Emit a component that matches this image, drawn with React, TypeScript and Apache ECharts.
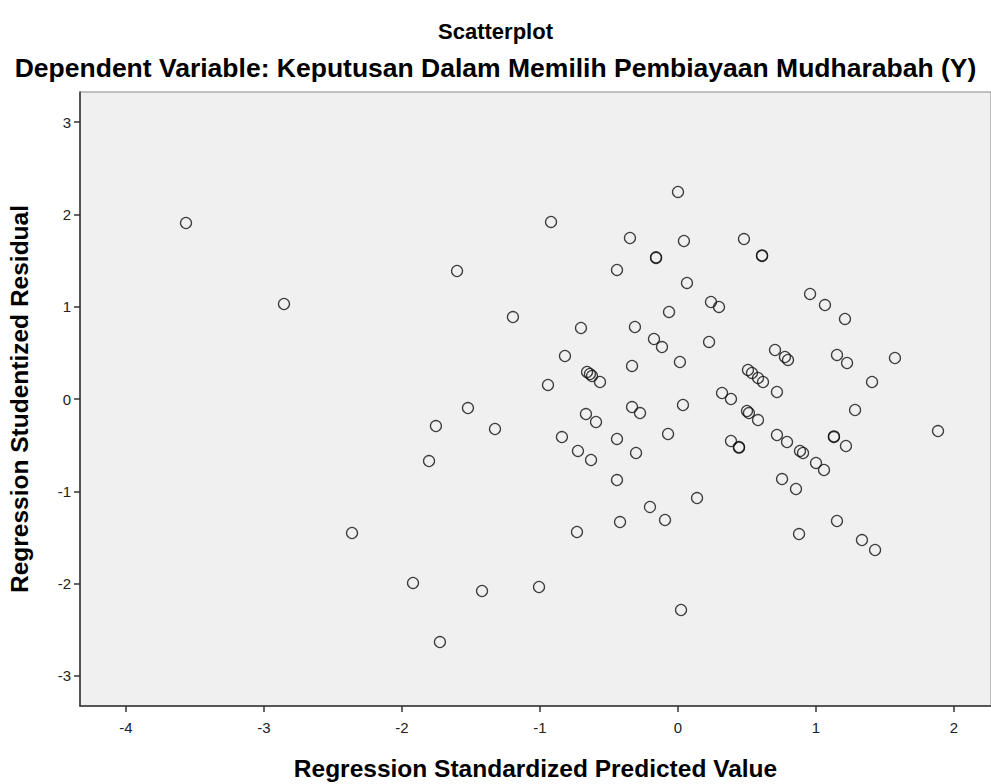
import React, { useEffect, useRef } from "react";
import * as echarts from "echarts";

const titleText = "Scatterplot";
const subtitleText = "Dependent Variable: Keputusan Dalam Memilih Pembiayaan Mudharabah (Y)";
const xAxisName = "Regression Standardized Predicted Value";
const yAxisName = "Regression Studentized Residual";

const xTicks = [-4, -3, -2, -1, 0, 1, 2];
const yTicks = [-3, -2, -1, 0, 1, 2, 3];

// Regression Standardized Predicted Value
const predicted = [
  -3.565, -2.855, -2.362, -1.601, -1.754, -1.522, -1.804, -1.326, -1.196, -1.92,
  -1.42, -1.725, -1.007, -0.92, -0.942, -0.819, -0.703, -0.841, -0.725, -0.732,
  -0.659, -0.638, -0.623, -0.565, -0.667, -0.594, -0.63, -0.442, -0.348, -0.312,
  -0.333, -0.333, -0.275, -0.442, -0.304, -0.442, -0.42, -0.159, -0.159, -0.174,
  -0.116, -0.065, 0.0, 0.043, 0.065, 0.014, 0.036, -0.072, -0.203, -0.094,
  0.022, 0.138, 0.239, 0.297, 0.225, 0.319, 0.384, 0.384, 0.442, 0.442,
  0.478, 0.507, 0.536, 0.58, 0.616, 0.5, 0.514, 0.58, 0.609, 0.609,
  0.703, 0.717, 0.775, 0.797, 0.717, 0.79, 0.754, 0.855, 0.884, 0.906,
  0.877, 0.957, 1.065, 1.0, 1.058, 1.21, 1.225, 1.152, 1.13, 1.13,
  1.217, 1.152, 1.283, 1.333, 1.428, 1.406, 1.572, 1.884,
];

// Regression Studentized Residual
const residual = [
  1.907, 1.029, -1.452, 1.387, -0.293, -0.098, -0.672, -0.325, 0.888, -1.993,
  -2.08, -2.633, -2.037, 1.918, 0.152, 0.466, 0.769, -0.412, -0.563, -1.441,
  0.293, 0.271, 0.249, 0.184, -0.163, -0.249, -0.661, 1.398, 1.744, 0.78,
  0.358, -0.087, -0.152, -0.433, -0.585, -0.878, -1.333, 1.528, 1.535, 0.65,
  0.563, 0.943, 2.243, 1.712, 1.257, 0.401, -0.065, -0.379, -1.17, -1.311,
  -2.286, -1.073, 1.051, 0.997, 0.618, 0.065, 0.0, -0.455, -0.52, -0.527,
  1.733, 0.314, 0.282, 0.228, 0.184, -0.13, -0.152, -0.228, 1.549, 1.556,
  0.531, 0.076, 0.455, 0.423, -0.39, -0.466, -0.867, -0.975, -0.563, -0.585,
  -1.463, 1.138, 1.018, -0.693, -0.769, 0.867, 0.39, 0.477, -0.412, -0.405,
  -0.509, -1.322, -0.119, -1.528, -1.636, 0.184, 0.444, -0.347,
];

const FONT = "'Liberation Sans', Arial, sans-serif";

export default function App() {
  const ref = useRef<HTMLDivElement>(null);
  useEffect(() => {
    if (!ref.current) return;
    const chart = echarts.init(ref.current, null, { renderer: "svg" });
    const data = predicted.map((x, i) => [x, residual[i]]);
    chart.setOption({
      animation: false,
      backgroundColor: "#ffffff",
      title: [
        {
          text: titleText,
          left: "center",
          top: 15,
          textStyle: { fontFamily: FONT, fontSize: 22, fontWeight: "bold", color: "#000" },
        },
        {
          text: subtitleText,
          left: "center",
          top: 49,
          textStyle: { fontFamily: FONT, fontSize: 26.5, fontWeight: "bold", color: "#000" },
        },
      ],
      grid: {
        left: 80,
        top: 92,
        right: 0,
        bottom: 78,
        outerBoundsMode: "none",
        containLabel: false,
        show: true,
        backgroundColor: "#f0f0f0",
        borderColor: "#888888",
        borderWidth: 1,
      },
      xAxis: {
        type: "value",
        min: -4.333,
        max: 2.268,
        name: xAxisName,
        nameLocation: "middle",
        nameGap: 50,
        nameTextStyle: { fontFamily: FONT, fontSize: 24.5, fontWeight: "bold", color: "#000" },
        axisLine: { show: true, onZero: false, lineStyle: { color: "#333", width: 1.5 } },
        axisTick: { show: true, length: 6, customValues: xTicks, lineStyle: { color: "#333", width: 1.5 } },
        axisLabel: { customValues: xTicks, margin: 14, fontFamily: FONT, fontSize: 15, color: "#222" },
        splitLine: { show: false },
      },
      yAxis: {
        type: "value",
        min: -3.326,
        max: 3.326,
        name: yAxisName,
        nameLocation: "middle",
        nameGap: 48,
        nameTextStyle: { fontFamily: FONT, fontSize: 24.5, fontWeight: "bold", color: "#000" },
        axisLine: { show: true, onZero: false, lineStyle: { color: "#333", width: 1.5 } },
        axisTick: { show: true, length: 6, customValues: yTicks, lineStyle: { color: "#333", width: 1.5 } },
        axisLabel: { customValues: yTicks, margin: 9, fontFamily: FONT, fontSize: 15, color: "#222" },
        splitLine: { show: false },
      },
      series: [
        {
          type: "scatter",
          data,
          symbol: "circle",
          symbolSize: 11,
          itemStyle: { color: "rgba(0,0,0,0)", borderColor: "#111", borderWidth: 1.3 },
          emphasis: { disabled: true },
        },
      ],
    });
    return () => chart.dispose();
  }, []);
  return (
    <div
      ref={ref}
      style={{ position: "absolute", left: 0, top: 0, width: 991, height: 784 }}
    />
  );
}
